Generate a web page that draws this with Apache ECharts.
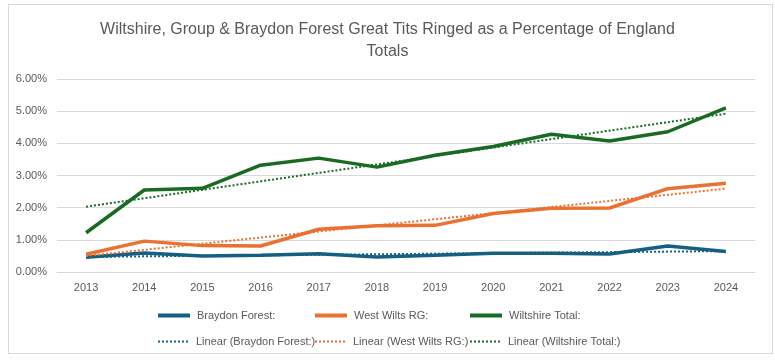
<!DOCTYPE html>
<html><head><meta charset="utf-8">
<script src="https://cdn.jsdelivr.net/npm/echarts@6/dist/echarts.min.js"></script>
<style>html,body{margin:0;padding:0;background:#fff}
#wrap{position:absolute;left:0;top:0;width:775px;height:361px;}
#c{width:775px;height:361px}
#frame{position:absolute;left:8px;top:4px;width:765px;height:350px;border:1px solid #d9d9d9;box-sizing:border-box;pointer-events:none}
</style></head>
<body><div id="wrap"><div id="c"></div><div id="frame"></div></div>
<script>
const years = ['2013','2014','2015','2016','2017','2018','2019','2020','2021','2022','2023','2024'];
const braydon = [0.46,0.59,0.50,0.52,0.57,0.47,0.52,0.58,0.58,0.56,0.81,0.64];
const westWilts = [0.55,0.96,0.82,0.81,1.33,1.44,1.45,1.82,1.98,1.99,2.59,2.76];
const wiltshire = [1.22,2.55,2.60,3.32,3.54,3.26,3.63,3.90,4.28,4.07,4.36,5.10];
// trendline endpoints (2013, 2024)
const braydonTrend = [0.47,0.65];
const westWiltsTrend = [0.50,2.59];
const wiltshireTrend = [2.03,4.92];
const yTicks = [0,1,2,3,4,5,6];

function ends(a){const r=years.map(()=>null);r[0]=a[0];r[r.length-1]=a[1];return r;}
const FONT='"Liberation Sans",Arial,sans-serif';
const C={b:'#156082',o:'#E97132',g:'#196B24'};
const names=['Braydon Forest:','West Wilts RG:','Wiltshire Total:','Linear (Braydon Forest:)','Linear (West Wilts RG:)','Linear (Wiltshire Total:)'];
const legPos=[[158,310],[315,310],[470,310],[158,336],[315,336],[470,336]];
let dots='path://';
for(let i=0;i<8;i++){dots+='M'+(i*4)+',0h2v2h-2z';}
const solid='path://M0,0h32v4h-32z';
const chart=echarts.init(document.getElementById('c'));
function line(name,data,color,dotted){
  return {name,type:'line',data,symbol:'none',connectNulls:true,z:dotted?3:2,
    lineStyle:{color,width:dotted?2:3.5,type:dotted?[2,2]:'solid'},itemStyle:{color}};
}
chart.setOption({
  animation:false,
  textStyle:{fontFamily:FONT},
  title:{text:'Wiltshire, Group & Braydon Forest Great Tits Ringed as a Percentage of England\nTotals',
    left:'center',top:19,padding:0,textStyle:{fontFamily:FONT,fontSize:16,fontWeight:'normal',color:'#595959',lineHeight:22}},
  grid:{left:57,right:20,top:79,bottom:89},
  legend:legPos.map((p,i)=>({data:[names[i]],left:p[0],top:p[1],padding:0,
    icon:i<3?solid:dots,itemWidth:32,itemHeight:i<3?4:2,itemGap:0,
    textStyle:{fontFamily:FONT,fontSize:11,color:'#595959',padding:[0,0,0,2]}})),
  xAxis:{type:'category',data:years,boundaryGap:true,
    axisLine:{lineStyle:{color:'#d9d9d9'}},axisTick:{show:false},
    axisLabel:{color:'#595959',fontSize:11,margin:10,fontFamily:FONT}},
  yAxis:{type:'value',min:0,max:6,interval:1,
    axisLabel:{color:'#595959',fontSize:11,margin:10,fontFamily:FONT,formatter:v=>v.toFixed(2)+'%'},
    splitLine:{lineStyle:{color:'#d9d9d9'}},axisLine:{show:false},axisTick:{show:false}},
  series:[
    line(names[0],braydon,C.b,false),
    line(names[1],westWilts,C.o,false),
    line(names[2],wiltshire,C.g,false),
    line(names[3],ends(braydonTrend),C.b,true),
    line(names[4],ends(westWiltsTrend),C.o,true),
    line(names[5],ends(wiltshireTrend),C.g,true)
  ]
});
</script></body></html>
